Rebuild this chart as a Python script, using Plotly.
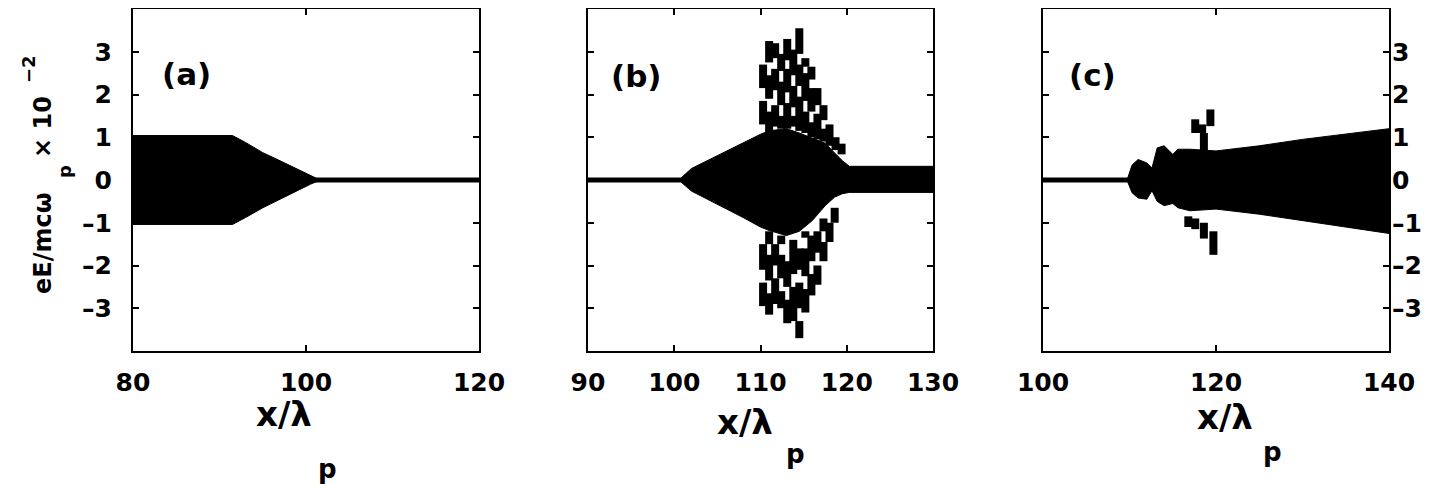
import plotly.graph_objects as go

# page body adds an 8 px margin, so the figure is drawn 8 px in from the window corner
OFF = 8
W, H = 1433 - OFF, 484 - OFF

# ---------------- data ----------------
# Panel (a): envelope of the dense oscillation
a_x = [80.0, 91.5, 93.0, 95.0, 97.0, 99.0, 100.5, 101.2]
a_upper = [1.04, 1.04, 0.88, 0.64, 0.45, 0.25, 0.10, 0.04]
a_lower = [-1.04, -1.04, -0.88, -0.65, -0.45, -0.25, -0.10, -0.04]
a_base_x = [80, 120]

# Panel (b): envelope
b_x = [100.8, 102.0, 104.0, 106.0, 108.0, 110.0, 111.0, 113.0, 114.5, 116.0, 117.5, 118.6, 119.5, 120.3, 130.0]
b_upper = [0.05, 0.27, 0.47, 0.67, 0.87, 1.07, 1.15, 1.20, 1.10, 0.98, 0.86, 0.63, 0.45, 0.32, 0.32]
b_lower = [-0.05, -0.26, -0.46, -0.67, -0.88, -1.10, -1.18, -1.30, -1.20, -0.95, -0.60, -0.40, -0.32, -0.29, -0.29]
b_base_x = [90, 130]
# Panel (b): large excursions, as vertical pieces (x, y from, y to)
b_sx = [110.3, 110.3,
        111.0, 111.0, 111.0,
        111.7, 111.7, 111.7,
        112.4, 112.4, 112.4,
        113.1, 113.1, 113.1,
        113.8, 113.8, 113.8,
        114.5, 114.5, 114.5,
        115.2, 115.2, 115.2,
        115.9, 115.9, 115.9,
        116.6, 116.6,
        117.3, 117.3,
        118.0, 118.7, 119.4,
        110.3, 110.3,
        111.0, 111.0, 111.0,
        111.7, 111.7,
        112.4, 112.4, 112.4,
        113.1, 113.1,
        113.8, 113.8,
        114.5, 114.5, 114.5,
        115.2, 115.2, 115.2,
        115.9, 115.9,
        116.6, 116.6,
        117.3, 117.3,
        118.0, 118.6]
b_sy0 = [1.30, 2.15,
         1.10, 1.90, 2.75,
         1.25, 2.10, 2.85,
         1.20, 1.75, 2.55,
         1.20, 2.05, 2.80,
         1.25, 1.70, 2.45,
         1.15, 2.20, 2.95,
         1.10, 1.85, 2.65,
         1.00, 1.60, 2.35,
         0.95, 1.75,
         0.90, 1.40,
         0.80, 0.70, 0.60,
         -2.95, -2.10,
         -3.15, -2.35, -1.50,
         -2.90, -2.00,
         -3.00, -2.30, -1.50,
         -3.35, -2.50,
         -3.30, -2.20,
         -3.70, -3.00, -2.10,
         -3.10, -2.25, -1.35,
         -2.70, -1.90,
         -2.45, -1.70,
         -1.90, -1.20,
         -1.45, -1.00]
b_sy1 = [1.85, 2.70,
         1.60, 2.45, 3.25,
         1.75, 2.60, 3.20,
         1.50, 2.30, 2.95,
         1.80, 2.60, 3.30,
         1.50, 2.20, 3.05,
         1.95, 2.70, 3.55,
         1.60, 2.50, 2.85,
         1.35, 2.15, 2.65,
         1.55, 2.15,
         1.20, 1.75,
         1.30, 1.00, 0.85,
         -2.40, -1.50,
         -2.65, -1.75, -1.20,
         -2.30, -1.50,
         -2.60, -1.75, -1.30,
         -2.80, -1.90,
         -2.50, -1.40,
         -3.30, -2.40, -1.60,
         -2.55, -1.60, -1.20,
         -2.20, -1.30,
         -2.00, -1.20,
         -1.45, -0.90,
         -1.00, -0.65]

# Panel (c): envelope
c_x = [109.8, 110.3, 111.0, 112.0, 112.6, 113.2, 114.0, 115.0, 115.6, 117.0, 120.0, 125.0, 130.0, 135.0, 140.0]
c_upper = [0.05, 0.35, 0.48, 0.40, 0.28, 0.75, 0.80, 0.60, 0.72, 0.72, 0.68, 0.80, 0.95, 1.07, 1.20]
c_lower = [-0.05, -0.30, -0.42, -0.45, -0.25, -0.50, -0.60, -0.55, -0.65, -0.72, -0.68, -0.80, -0.95, -1.10, -1.25]
c_base_x = [100, 140]
# Panel (c): excursions
c_sx = [119.35, 117.6, 118.4, 118.6, 116.8, 117.6, 118.6, 119.7]
c_sy0 = [1.26, 1.10, 1.10, 0.63, -1.10, -1.15, -1.37, -1.75]
c_sy1 = [1.65, 1.42, 1.30, 1.10, -0.85, -0.90, -1.00, -1.20]

# ticks and labels
y_ticks = [-3, -2, -1, 0, 1, 2, 3]
y_ticktext = ["–3", "–2", "–1", "0", "1", "2", "3"]
a_xticks = [80, 100, 120]
b_xticks = [90, 100, 110, 120, 130]
c_xticks = [100, 120, 140]
panel_labels = ["(a)", "(b)", "(c)"]

# ---------------- figure ----------------
FONT = "DejaVu Sans"
fig = go.Figure()


def env_trace(x, up, lo, xa, ya):
    return go.Scatter(x=x + x[::-1], y=up + lo[::-1], fill="toself", fillcolor="black",
                      mode="lines", line=dict(color="black", width=1),
                      xaxis=xa, yaxis=ya, hoverinfo="skip", showlegend=False)


def base_trace(bx, xa, ya):
    return go.Scatter(x=bx, y=[0] * len(bx), mode="lines", line=dict(color="black", width=5),
                      xaxis=xa, yaxis=ya, hoverinfo="skip", showlegend=False)


def stroke_trace(sx, s0, s1, xa, ya, w=6):
    xs, ys = [], []
    for x, y0, y1 in zip(sx, s0, s1):
        xs += [x, x, None]
        ys += [y0, y1, None]
    return go.Scatter(x=xs, y=ys, mode="lines", line=dict(color="black", width=w),
                      xaxis=xa, yaxis=ya, hoverinfo="skip", showlegend=False)


fig.add_trace(base_trace(a_base_x, "x", "y"))
fig.add_trace(env_trace(a_x, a_upper, a_lower, "x", "y"))
fig.add_trace(base_trace(b_base_x, "x2", "y2"))
fig.add_trace(env_trace(b_x, b_upper, b_lower, "x2", "y2"))
fig.add_trace(stroke_trace(b_sx, b_sy0, b_sy1, "x2", "y2", 8))
fig.add_trace(base_trace(c_base_x, "x3", "y3"))
fig.add_trace(env_trace(c_x, c_upper, c_lower, "x3", "y3"))
fig.add_trace(stroke_trace(c_sx, c_sy0, c_sy1, "x3", "y3", 8))

tickfont = dict(family=FONT, size=25, color="black", weight="bold")
doms = [(133, 479), (588, 933), (1043, 1389)]
ydom = [1 - (351 - OFF) / H, 1 - 1.0 / H]
xr = [[80, 120], [90, 130], [100, 140]]
xt = [a_xticks, b_xticks, c_xticks]

common = dict(showgrid=False, zeroline=False, showline=True, linecolor="black", linewidth=2,
              mirror="ticks", ticks="inside", ticklen=6, tickwidth=2, tickcolor="black",
              tickfont=tickfont, automargin=False)

layout = dict(width=W, height=H, margin=dict(l=0, r=0, t=0, b=0, pad=0, autoexpand=False),
              paper_bgcolor="white", plot_bgcolor="white", showlegend=False)
for i in range(3):
    s = "" if i == 0 else str(i + 1)
    layout["xaxis" + s] = dict(domain=[(doms[i][0] - OFF) / W, (doms[i][1] - OFF) / W], range=xr[i],
                               tickvals=xt[i], anchor="y" + s, ticklabelstandoff=8, **common)
    yd = dict(domain=ydom, range=[-4, 4], tickvals=y_ticks, ticktext=y_ticktext,
              anchor="x" + s, **common)
    if i == 0:
        yd.update(side="left", ticklabelstandoff=14)
    elif i == 1:
        yd.update(showticklabels=False)
    else:
        yd.update(side="right", ticklabelstandoff=-4)
    layout["yaxis" + s] = yd
fig.update_layout(**layout)


def P(px, py):
    return (px - OFF) / W, 1 - (py - OFF) / H


ann = []
for lab, (px, py) in zip(panel_labels, [(186, 74), (636, 76), (1092, 75)]):
    x, y = P(px, py)
    ann.append(dict(text=lab, x=x, y=y, xref="paper", yref="paper", showarrow=False,
                    xanchor="center", yanchor="middle",
                    font=dict(family=FONT, size=31, color="black", weight="bold")))

# x-axis titles: x/λ with subscript p
for (mx, my), (sx, sy) in [((284, 414), (327, 469)), ((745, 422), (795, 454)), ((1225, 417), (1272, 452))]:
    x, y = P(mx, my)
    ann.append(dict(text="x/λ", x=x, y=y, xref="paper", yref="paper", showarrow=False,
                    xanchor="center", yanchor="middle",
                    font=dict(family=FONT, size=34, color="black", weight="bold")))
    x, y = P(sx, sy)
    ann.append(dict(text="p", x=x, y=y, xref="paper", yref="paper", showarrow=False,
                    xanchor="center", yanchor="middle",
                    font=dict(family=FONT, size=26, color="black", weight="bold")))

# y-axis title pieces (rotated)
for txt, (px, py), sz in [("eE/mcω", (43, 243), 24), ("p", (64, 172), 18),
                          ("× 10", (43, 127), 24), ("−2", (29, 69), 18)]:
    x, y = P(px, py)
    ann.append(dict(text=txt, x=x, y=y, xref="paper", yref="paper", showarrow=False,
                    xanchor="center", yanchor="middle", textangle=-90,
                    font=dict(family=FONT, size=sz, color="black", weight="bold")))
fig.update_layout(annotations=ann)

fig.write_html("out.html")
